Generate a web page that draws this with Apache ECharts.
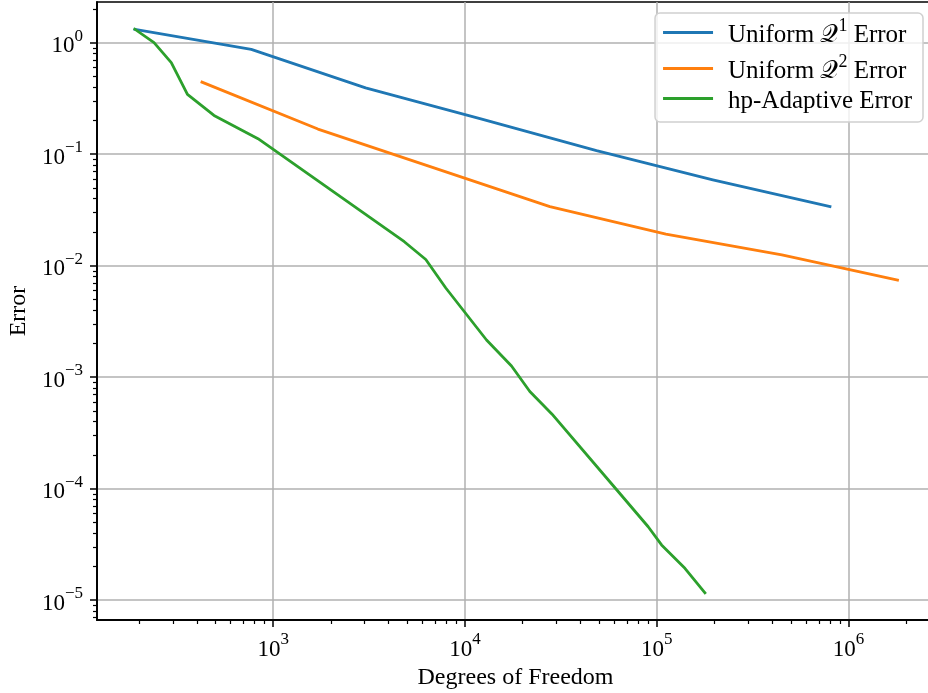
<!DOCTYPE html>
<html>
<head>
<meta charset="utf-8">
<script src="https://cdn.jsdelivr.net/npm/echarts@6/dist/echarts.min.js"></script>
<style>
  html, body { margin: 0; padding: 0; background: #fff; }
  #chart { width: 928px; height: 693px; }
</style>
</head>
<body>
<div id="chart"></div>
<script>
// Convergence of the discretisation error against degrees of freedom
const dofUniformQ1 = [190, 768, 3030, 12100, 48500, 196000, 800000];
const errUniformQ1 = [1.319, 0.871, 0.393, 0.207, 0.1075, 0.0589, 0.0339];

const dofUniformQ2 = [425, 1710, 6890, 27700, 111600, 449000, 1800000];
const errUniformQ2 = [0.443, 0.168, 0.0754, 0.0339, 0.0192, 0.0125, 0.00743];

const dofAdaptive = [190, 239, 294, 357, 491, 833, 4825, 6245, 7941, 12950, 17480,
                     21780, 28370, 61930, 90200, 105900, 140200, 178200];
const errAdaptive = [1.319, 1.0, 0.6616, 0.3438, 0.2228, 0.1377, 0.01641, 0.01137,
                     0.00631, 0.002156, 0.00126, 0.000744, 0.000468, 9.73e-5,
                     4.56e-5, 3.13e-5, 1.932e-5, 1.168e-5];

const seriesNames = ['Uniform Q1 Error', 'Uniform Q2 Error', 'hp-Adaptive Error'];

// axis ranges and decade ticks
const xRange = [120.5, 2.79e6];
const yRange = [6.644e-6, 2.317];
const xDecades = [1e3, 1e4, 1e5, 1e6];
const yDecades = [1e-5, 1e-4, 1e-3, 1e-2, 1e-1, 1e0];

// minor ticks at 2..9 x 10^n inside a range
function minorTicks(range) {
  const out = [];
  const lo = Math.floor(Math.log10(range[0]));
  const hi = Math.ceil(Math.log10(range[1]));
  for (let e = lo; e <= hi; e++) {
    for (let k = 2; k <= 9; k++) {
      const v = k * Math.pow(10, e);
      if (v >= range[0] && v <= range[1]) out.push(v);
    }
  }
  return out;
}

const FONT = 'Liberation Serif';
const colors = ['#1f77b4', '#ff7f0e', '#2ca02c'];

function powerLabel(v) {
  const e = Math.round(Math.log10(v));
  const exp = e < 0 ? '\u2212' + (-e) : String(e);
  return '{b|10}{s|' + exp + '}';
}

const tickRich = {
  b: { fontFamily: FONT, fontSize: 23, color: '#000', lineHeight: 30, verticalAlign: 'bottom' },
  s: { fontFamily: FONT, fontSize: 17, color: '#000', lineHeight: 17, verticalAlign: 'top' }
};

function majorAxis(range, decades, extra) {
  return Object.assign({
    type: 'log',
    logBase: 10,
    min: range[0],
    max: range[1],
    axisLine: { show: true, onZero: false, lineStyle: { color: '#000', width: 1.5 } },
    axisTick: { show: true, inside: false, length: 7, customValues: decades,
                lineStyle: { color: '#000', width: 1.5 } },
    axisLabel: { show: true, customValues: decades, formatter: powerLabel, rich: tickRich },
    splitLine: { show: true, lineStyle: { color: '#b0b0b0', width: 1.5 } },
    minorTick: { show: false },
    minorSplitLine: { show: false }
  }, extra);
}

// an axis used only for the short ticks between the decades
function minorAxis(range, extra) {
  const vals = minorTicks(range);
  return Object.assign({
    type: 'log',
    logBase: 10,
    min: range[0],
    max: range[1],
    show: true,
    axisLine: { show: true, onZero: false, lineStyle: { color: '#000', width: 1.5 } },
    axisTick: { show: true, inside: false, length: 4, customValues: vals,
                lineStyle: { color: '#000', width: 1.2 } },
    axisLabel: { show: true, customValues: vals, formatter: function () { return ''; } },
    splitLine: { show: false },
    minorTick: { show: false },
    name: ''
  }, extra);
}

function pairs(xs, ys) {
  return xs.map((x, i) => [x, ys[i]]);
}

const chart = echarts.init(document.getElementById('chart'), null, { renderer: 'canvas' });

const visibleSeries = [
  { name: seriesNames[0], data: pairs(dofUniformQ1, errUniformQ1) },
  { name: seriesNames[1], data: pairs(dofUniformQ2, errUniformQ2) },
  { name: seriesNames[2], data: pairs(dofAdaptive, errAdaptive) }
].map((s, i) => Object.assign({
  type: 'line',
  xAxisIndex: 0,
  yAxisIndex: 0,
  showSymbol: false,
  symbol: 'none',
  color: colors[i],
  lineStyle: { color: colors[i], width: 2.8, join: 'round', cap: 'square' },
  emphasis: { disabled: true },
  z: 3 + i
}, s));

// the minor-tick axes carry a transparent copy of one curve so they are laid out
const tickCarrier = {
  name: 'minor-ticks',
  type: 'line',
  xAxisIndex: 1,
  yAxisIndex: 1,
  data: pairs(dofUniformQ2, errUniformQ2),
  showSymbol: false,
  symbol: 'none',
  silent: true,
  lineStyle: { opacity: 0, width: 0 },
  tooltip: { show: false },
  z: 1
};

chart.setOption({
  animation: false,
  backgroundColor: '#fff',
  grid: {
    left: 97, right: -6, top: 2, bottom: 73,
    show: true, borderColor: '#000', borderWidth: 1.5, backgroundColor: 'transparent',
    containLabel: false,
    outerBoundsMode: 'none'
  },
  xAxis: [
    majorAxis(xRange, xDecades, {
      position: 'bottom',
      axisLabel: { show: true, customValues: xDecades, formatter: powerLabel, rich: tickRich, margin: 11 },
      name: 'Degrees of Freedom',
      nameLocation: 'middle',
      nameGap: 40,
      nameTextStyle: { fontFamily: FONT, fontSize: 24, color: '#000' }
    }),
    minorAxis(xRange, { position: 'bottom', offset: 0 })
  ],
  yAxis: [
    majorAxis(yRange, yDecades, {
      position: 'left',
      axisLabel: { show: true, customValues: yDecades, formatter: powerLabel, rich: tickRich, margin: 14 },
      name: 'Error',
      nameLocation: 'middle',
      nameGap: 64,
      nameRotate: 90,
      nameTextStyle: { fontFamily: FONT, fontSize: 24, color: '#000' }
    }),
    minorAxis(yRange, { position: 'left', offset: 0 })
  ],
  legend: {
    show: true,
    orient: 'vertical',
    right: 5,
    top: 13,
    icon: 'rect',
    itemWidth: 50,
    itemHeight: 3,
    itemGap: 5,
    padding: [4, 11, 8, 8],
    backgroundColor: 'rgba(255,255,255,0.8)',
    borderColor: '#d0d0d0',
    borderWidth: 1.5,
    borderRadius: 5,
    data: seriesNames,
    formatter: function (name) {
      if (name === seriesNames[0]) return '{t|Uniform }{q|\uD835\uDCAC}{s|1}{t| Error}';
      if (name === seriesNames[1]) return '{t|Uniform }{q|\uD835\uDCAC}{s|2}{t| Error}';
      return '{t|' + name + '}';
    },
    textStyle: {
      fontFamily: FONT, fontSize: 25, color: '#000',
      padding: [0, 0, 0, 10],
      rich: {
        t: { fontFamily: FONT, fontSize: 25, color: '#000', lineHeight: 31, verticalAlign: 'bottom' },
        q: { fontFamily: FONT, fontSize: 25, color: '#000', lineHeight: 31, verticalAlign: 'bottom' },
        s: { fontFamily: FONT, fontSize: 18, color: '#000', lineHeight: 18, verticalAlign: 'top' }
      }
    }
  },
  series: visibleSeries.concat([tickCarrier])
});
</script>
</body>
</html>
